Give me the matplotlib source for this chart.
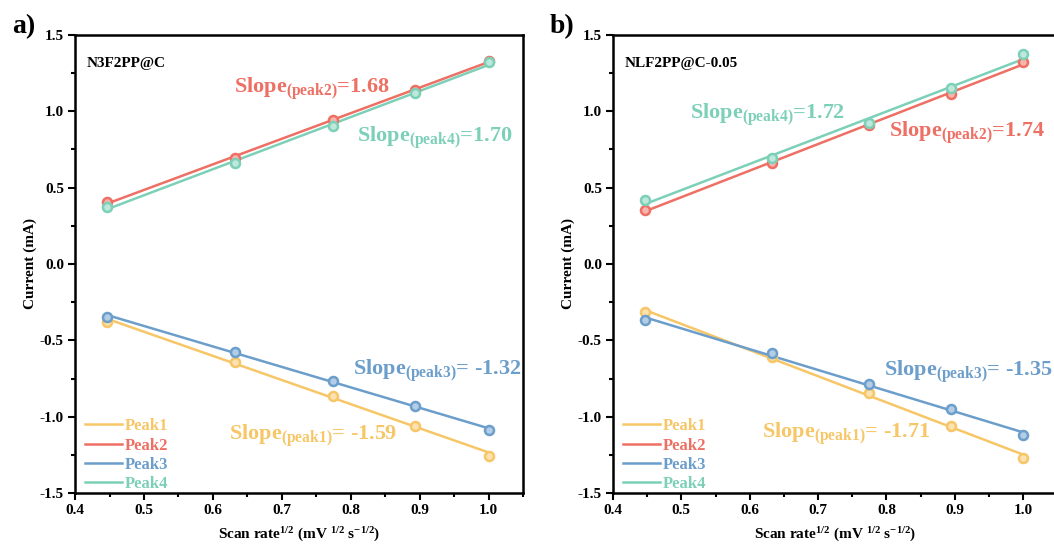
import matplotlib
matplotlib.use("Agg")
import matplotlib.pyplot as plt
import numpy as np
from matplotlib.ticker import MultipleLocator

plt.rcParams["font.family"] = ["Liberation Serif", "DejaVu Serif"]
plt.rcParams["font.weight"] = "bold"
plt.rcParams["axes.unicode_minus"] = False
plt.rcParams["mathtext.fontset"] = "custom"
plt.rcParams["mathtext.rm"] = "Liberation Serif:bold"
plt.rcParams["mathtext.bf"] = "Liberation Serif:bold"
plt.rcParams["mathtext.default"] = "bf"

# sqrt of scan rate (0.2 .. 1.0 mV/s)
scan_sqrt = [0.447, 0.632, 0.775, 0.894, 1.0]

# panel a: N3F2PP@C
a_peak1 = [-0.377, -0.639, -0.862, -1.058, -1.255]
a_peak2 = [0.406, 0.694, 0.943, 1.140, 1.332]
a_peak3 = [-0.345, -0.574, -0.766, -0.930, -1.087]
a_peak4 = [0.376, 0.660, 0.906, 1.118, 1.320]

# panel b: NLF2PP@C-0.05
b_peak1 = [-0.316, -0.610, -0.847, -1.058, -1.268]
b_peak2 = [0.354, 0.660, 0.910, 1.114, 1.320]
b_peak3 = [-0.366, -0.585, -0.786, -0.951, -1.120]
b_peak4 = [0.420, 0.692, 0.922, 1.151, 1.374]

x_ticks = [0.4, 0.5, 0.6, 0.7, 0.8, 0.9, 1.0]
x_tick_labels = ["0.4", "0.5", "0.6", "0.7", "0.8", "0.9", "1.0"]
y_ticks = [-1.5, -1.0, -0.5, 0.0, 0.5, 1.0, 1.5]
y_tick_labels = ["-1.5", "-1.0", "-0.5", "0.0", "0.5", "1.0", "1.5"]

peak_names = ["Peak1", "Peak2", "Peak3", "Peak4"]
colors = ["#F6C667", "#EE6F63", "#6C9ECB", "#7DD0B8"]
light = ["#FBE2B0", "#F7B5AE", "#B3CDE6", "#BDE8DB"]

a_slopes = ["-1.59", "1.68", "-1.32", "1.70"]
b_slopes = ["-1.71", "1.74", "-1.35", "1.72"]

# label anchor (data coords, left/baseline) per peak
a_label_pos = [(0.623, -1.152), (0.630, 1.12), (0.804, -0.727), (0.809, 0.80)]
b_label_pos = [(0.618, -1.141), (0.804, 0.834), (0.796, -0.733), (0.513, 0.948)]

panels = [
    ("a)", "N3F2PP@C", [a_peak1, a_peak2, a_peak3, a_peak4], a_slopes, a_label_pos,
     [0.0712, 0.097, 0.425, 0.839]),
    ("b)", "NLF2PP@C-0.05", [b_peak1, b_peak2, b_peak3, b_peak4], b_slopes, b_label_pos,
     [0.5816, 0.097, 0.4215, 0.839]),
]

fig = plt.figure(figsize=(10.54, 5.46), dpi=100)

for tag, sample, series, slopes, label_pos, rect in panels:
    ax = fig.add_axes(rect)
    x = np.array(scan_sqrt)
    xfit = np.array([x[0], x[-1]])
    for i, y in enumerate(series):
        # linear fit line plus measured points
        k, b = np.polyfit(x, y, 1)
        ax.plot(xfit, k * xfit + b, color=colors[i], lw=1.8, label=peak_names[i], zorder=2)
        ax.plot(x, y, "o", ms=6.5, mfc=light[i], mec=colors[i], mew=1.8, zorder=3)
        lx, ly = label_pos[i]
        eq = "= " if slopes[i].startswith("-") else "="
        ax.text(lx, ly, f"Slope$_{{(peak{i + 1})}}$" + eq + slopes[i],
                color=colors[i], fontsize=16, fontweight="bold", va="baseline", ha="left")

    ax.set_xlim(0.4, 1.05)
    ax.set_ylim(-1.5, 1.5)
    ax.set_xticks(x_ticks)
    ax.set_xticklabels(x_tick_labels, fontweight="bold", fontsize=11)
    ax.set_yticks(y_ticks)
    ax.set_yticklabels(y_tick_labels, fontweight="bold", fontsize=11)
    ax.xaxis.set_minor_locator(MultipleLocator(0.05))
    ax.yaxis.set_minor_locator(MultipleLocator(0.25))
    ax.tick_params(which="both", direction="out", width=1.5)
    ax.tick_params(which="major", length=5, pad=3)
    ax.tick_params(which="minor", length=3)
    for sp in ax.spines.values():
        sp.set_linewidth(1.8)

    ax.set_xlabel("Scan rate$^{1/2}$ (mV $^{1/2}$ s$^{-1/2}$)", fontsize=11, fontweight="bold", labelpad=6)
    ax.set_ylabel("Current (mA)", fontsize=11, fontweight="bold", labelpad=2)

    ax.text(0.027, 0.937, sample, transform=ax.transAxes, fontsize=11,
            fontweight="bold", va="center", ha="left")

    leg = ax.legend(loc="lower left", frameon=False, fontsize=12, handlelength=2.2,
                    labelspacing=0.2, handletextpad=0.2, borderaxespad=0.2,
                    bbox_to_anchor=(0.0, -0.02))
    for txt, c in zip(leg.get_texts(), colors):
        txt.set_color(c)

    fig.text(rect[0] - 0.06, 0.94, tag, fontsize=20, fontweight="bold", va="baseline")

fig.savefig("out.png", dpi=100)
